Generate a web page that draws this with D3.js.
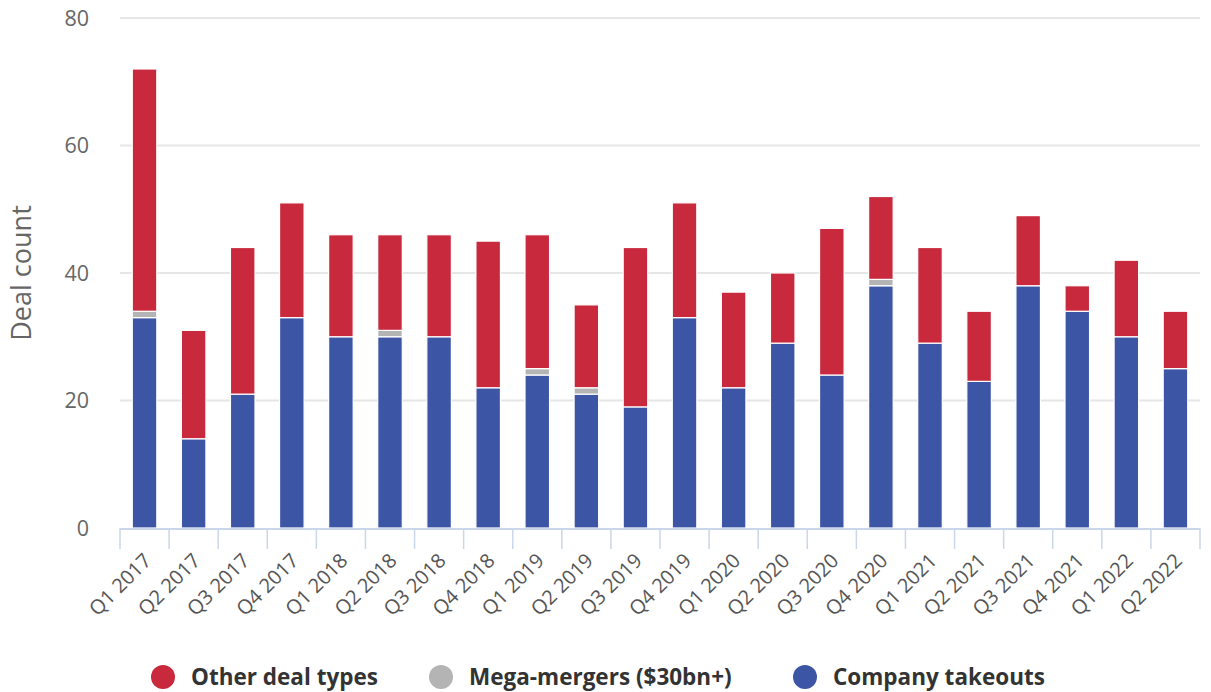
<!DOCTYPE html>
<html><head><meta charset="utf-8">
<script src="https://cdn.jsdelivr.net/npm/d3@7"></script>
<style>body{margin:0;background:#fff;} text{font-family:"Open Sans", Lato, sans-serif;}</style>
</head><body>
<svg id="c" width="1211" height="692"></svg>
<script>
const categories = ["Q1 2017","Q2 2017","Q3 2017","Q4 2017","Q1 2018","Q2 2018","Q3 2018","Q4 2018","Q1 2019","Q2 2019","Q3 2019","Q4 2019","Q1 2020","Q2 2020","Q3 2020","Q4 2020","Q1 2021","Q2 2021","Q3 2021","Q4 2021","Q1 2022","Q2 2022"];
const companyTakeouts = [33,14,21,33,30,30,30,22,24,21,19,33,22,29,24,38,29,23,38,34,30,25];
const megaMergers     = [1,0,0,0,0,1,0,0,1,1,0,0,0,0,0,1,0,0,0,0,0,0];
const otherDealTypes  = [38,17,23,18,16,15,16,23,21,13,25,18,15,11,23,13,15,11,11,4,12,9];
const yTicks = [0,20,40,60,80];
const seriesNames = ["Company takeouts","Mega-mergers ($30bn+)","Other deal types"];
const legendOrder = ["Other deal types","Mega-mergers ($30bn+)","Company takeouts"];
const colors = {"Company takeouts":"#3d55a5","Mega-mergers ($30bn+)":"#b4b4b4","Other deal types":"#c8293d"};

const svg = d3.select("#c");
const L=120, R=1200, T=18, B=528;
const x = d3.scaleBand().domain(categories).range([L,R]).paddingInner(0.5).paddingOuter(0.25);
const y = d3.scaleLinear().domain([0,80]).range([B,T]);

// gridlines
svg.append("g").selectAll("line").data(yTicks.filter(d=>d>0)).join("line")
  .attr("x1",L).attr("x2",R).attr("y1",d=>y(d)).attr("y2",d=>y(d))
  .attr("stroke","#e6e6e6").attr("stroke-width",2);

// y labels
svg.append("g").selectAll("text").data(yTicks).join("text")
  .attr("x",89).attr("y",d=>y(d)).attr("dy","0.36em").attr("text-anchor","end")
  .attr("font-size",21.5).attr("fill","#666").text(d=>d);

svg.append("text").attr("transform","translate(31,273) rotate(-90)")
  .attr("text-anchor","middle").attr("font-size",27).attr("fill","#666").text("Deal count");

// stacked data
const rows = categories.map((c,i)=>({cat:c,"Company takeouts":companyTakeouts[i],"Mega-mergers ($30bn+)":megaMergers[i],"Other deal types":otherDealTypes[i]}));
const stack = d3.stack().keys(seriesNames)(rows);
svg.append("g").selectAll("g").data(stack).join("g").attr("fill",d=>colors[d.key])
  .selectAll("rect").data(d=>d.filter(p=>p[1]-p[0]>0)).join("rect")
  .attr("x",d=>x(d.data.cat)).attr("width",x.bandwidth())
  .attr("y",d=>y(d[1])).attr("height",d=>y(d[0])-y(d[1]))
  .attr("stroke","#fff").attr("stroke-width",1.2);

// x axis
const ax = svg.append("g");
ax.append("line").attr("x1",L).attr("x2",R).attr("y1",B+1).attr("y2",B+1).attr("stroke","#cad6ea").attr("stroke-width",2);
const tickXs = d3.range(categories.length+1).map(i=>L+i*(R-L)/categories.length);
ax.selectAll("line.t").data(tickXs).join("line").attr("class","t")
  .attr("x1",d=>d).attr("x2",d=>d).attr("y1",B).attr("y2",B+21)
  .attr("stroke","#cad6ea").attr("stroke-width",1.5);
ax.selectAll("text").data(categories).join("text")
  .attr("transform",d=>`translate(${x(d)+x.bandwidth()/2+8},${B+34}) rotate(-45)`)
  .attr("text-anchor","end").attr("font-size",20).attr("fill","#555").text(d=>d);

// legend
const legX = [163,441,805];
const lg = svg.append("g").selectAll("g").data(legendOrder).join("g")
  .attr("transform",(d,i)=>`translate(${legX[i]},677)`);
lg.append("circle").attr("r",12).attr("fill",d=>colors[d]);
lg.append("text").attr("x",28).attr("dy","0.36em").attr("font-size",22.5).attr("font-weight","bold").attr("fill","#333").text(d=>d);
</script>
</body></html>
